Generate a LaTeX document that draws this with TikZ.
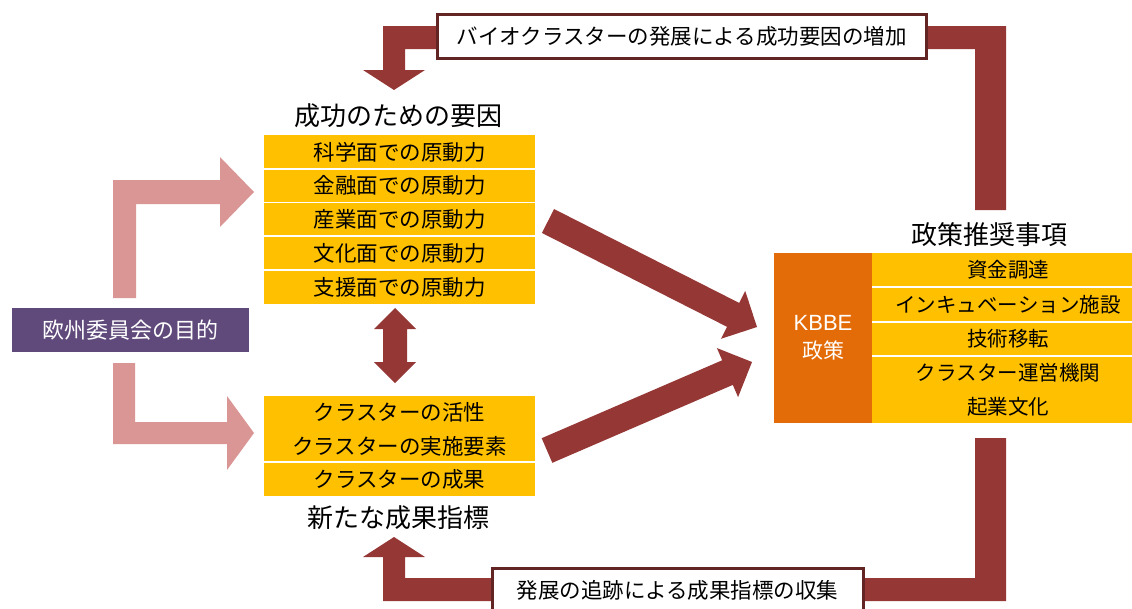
\documentclass[tikz,border=0pt]{standalone}
\usepackage{fontspec}
\setmainfont{Noto Sans CJK JP}
\newfontfamily\latinsf{Liberation Sans}
\usetikzlibrary{calc}
\definecolor{cyellow}{HTML}{FFC000}
\definecolor{corange}{HTML}{E36C09}
\definecolor{cpurple}{HTML}{604A7B}
\definecolor{cpink}{HTML}{D99694}
\definecolor{cdred}{HTML}{953735}
\definecolor{cborder}{HTML}{632523}
\newcommand\myfatarrow[5]{%
  \coordinate (hb) at ($(#2)!#5!(#1)$);
  \fill[cdred] ($(#1)!#3!90:(#2)$) -- ($(hb)!#3!90:(#2)$) -- ($(hb)!#4!90:(#2)$) -- (#2)
    -- ($(hb)!#4!-90:(#2)$) -- ($(hb)!#3!-90:(#2)$) -- ($(#1)!#3!-90:(#2)$) -- cycle;}
\begin{document}
\begin{tikzpicture}[x=1pt,y=-1pt,
  row/.style={fill=cyellow, minimum width=271pt, minimum height=34pt, inner sep=0pt,
    font=\fontsize{21.5}{34}\selectfont, align=center},
  rrow/.style={row, minimum width=272pt, font=\fontsize{20.5}{34}\selectfont},
  title/.style={font=\fontsize{26}{30}\selectfont, inner sep=0pt},
  label/.style={draw=cborder, line width=3pt, fill=white, minimum height=44pt, inner sep=0pt,
    font=\fontsize{21.5}{26}\selectfont},
  sep/.style={white, line width=1.5pt}]
\useasboundingbox (0,0) rectangle (1132,608);
\fill[white] (0,0) rectangle (1132,608);

% feedback arrows
\fill[cdred] (1006,210) -- (1006,26) -- (383,26) -- (383,70) -- (363,70) -- (394,90)
  -- (425,70) -- (405,70) -- (405,49) -- (975,49) -- (975,210) -- cycle;
\fill[cdred] (975,438) -- (1006,438) -- (1006,601) -- (383,601) -- (383,557) -- (363,557)
  -- (394,537) -- (425,557) -- (405,557) -- (405,578) -- (975,578) -- cycle;

\node[label, minimum width=489pt] (toplab) at (681.5,36) {バイオクラスターの発展による成功要因の増加};
\node[label, minimum width=371pt] (botlab) at (677.5,590) {発展の追跡による成果指標の収集};

% left stack
\node[title] (t1) at (398,116) {成功のための要因};
\node[row] (a1) at (399.5,152) {科学面での原動力};
\node[row] (a2) at (399.5,185.5) {金融面での原動力};
\node[row] (a3) at (399.5,219) {産業面での原動力};
\node[row] (a4) at (399.5,253) {文化面での原動力};
\node[row] (a5) at (399.5,287) {支援面での原動力};
\foreach \r in {a1,a2,a3,a4} \draw[sep] (\r.south west) -- (\r.south east);

\node[row, minimum height=66pt] (b1) at (399.5,429) {クラスターの活性\\クラスターの実施要素};
\node[row] (b2) at (399.5,479) {クラスターの成果};
\draw[sep] (b1.south west) -- (b1.south east);
\node[title] (t2) at (398,518) {新たな成果指標};

% double arrow
\fill[cdred] (395,308) -- (416,329) -- (407,329) -- (407,362) -- (416,362) -- (395,383)
  -- (374,362) -- (383,362) -- (383,329) -- (374,329) -- cycle;

% purple box and pink arrows
\node[fill=cpurple, minimum width=237pt, minimum height=44pt, inner sep=0pt, text=white,
  font=\fontsize{22}{26}\selectfont] (eu) at (130,330) {欧州委員会の目的};
\fill[cpink] (113,298) -- (113,180) -- (220,180) -- (220,157) -- (254,192) -- (220,227)
  -- (220,204) -- (136,204) -- (136,298) -- cycle;
\fill[cpink] (113,363) -- (135,363) -- (135,422) -- (227,422) -- (227,396) -- (254,433)
  -- (227,470) -- (227,444) -- (113,444) -- cycle;

% right side
\node[title] (t3) at (989,235) {政策推奨事項};
\node[fill=corange, minimum width=98pt, minimum height=170pt, inner sep=0pt, text=white,
  align=center, font=\fontsize{21}{28}\selectfont] (kbbe) at (823,338) {{\latinsf\fontsize{22}{28}\selectfont KBBE}\\政策};
\node[rrow] (c1) at (1008,270) {資金調達};
\node[rrow, minimum height=35pt] (c2) at (1008,304.5) {インキュベーション施設};
\node[rrow] (c3) at (1008,339) {技術移転};
\node[rrow, minimum height=67pt] (c4) at (1008,389.5) {クラスター運営機関\\起業文化};
\foreach \r in {c1,c2,c3} \draw[sep] (\r.south west) -- (\r.south east);

% diagonal arrows
\coordinate (d1t) at (548,221);
\coordinate (d1h) at (757,327);
\coordinate (d2t) at (547,450.5);
\coordinate (d2h) at (752,362);
\myfatarrow{d1t}{d1h}{13.4pt}{26.8pt}{26.8pt}
\myfatarrow{d2t}{d2h}{13.4pt}{26.7pt}{26.7pt}
\end{tikzpicture}
\end{document}
